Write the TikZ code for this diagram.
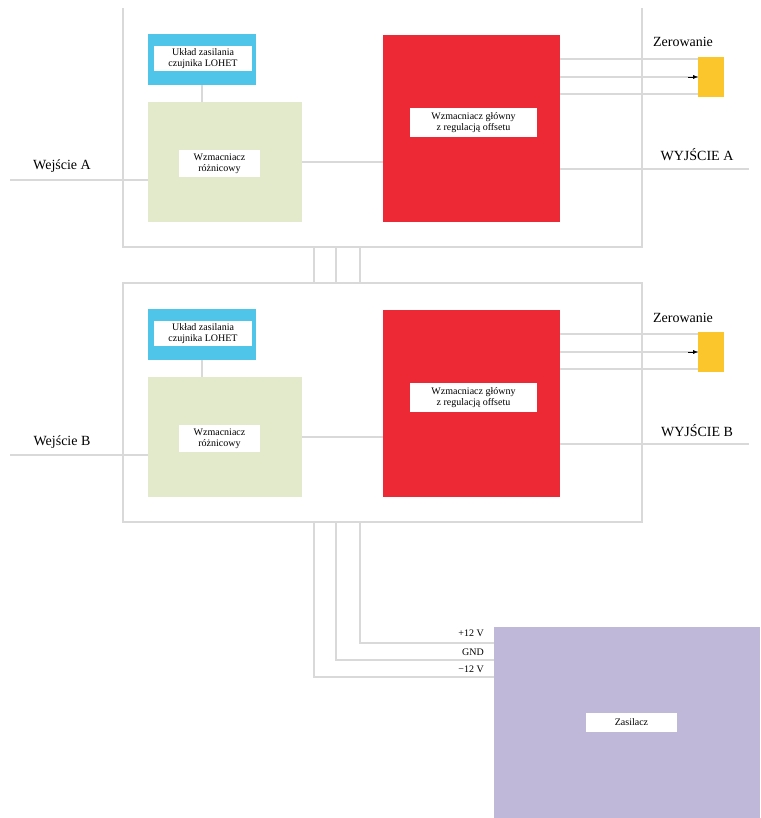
\documentclass[tikz,border=0pt]{standalone}
\usepackage{fontspec}
\setmainfont{Liberation Serif}
\usetikzlibrary{arrows.meta}
\definecolor{wire}{HTML}{D9D9D9}
\definecolor{sensorblue}{HTML}{4EC5E9}
\definecolor{diffgreen}{HTML}{E2EACB}
\definecolor{mainred}{HTML}{EC2934}
\definecolor{resetyellow}{HTML}{FBC52C}
\definecolor{supplyviolet}{HTML}{BFB8D8}
\tikzset{
  x=1pt, y=-1pt,
  wireline/.style={draw=wire, line width=1.2pt},
  block/.style={draw=none, anchor=north west, inner sep=0pt, outer sep=0pt},
  tag/.style={fill=white, anchor=north west, inner sep=0pt, outer sep=0pt,
    font=\fontsize{10}{11}\selectfont, align=center},
  biglabel/.style={font=\fontsize{14}{16}\selectfont, inner sep=0pt},
  smalllabel/.style={font=\fontsize{10}{11}\selectfont, inner sep=0pt, anchor=east},
}
\begin{document}
\begin{tikzpicture}
\useasboundingbox (0,0) rectangle (760,818);
\fill[white] (0,0) rectangle (760,818);

\foreach \p/\dy/\inname/\outname in {A/0/Wejście A/WYJŚCIE A, B/275/Wejście B/WYJŚCIE B} {
  % panel outline (the sides are drawn below)
  \node[block, minimum width=519pt, minimum height=239pt]
    (frame\p) at (123,8+\dy) {};
  % sensor supply
  \node[block, fill=sensorblue, minimum width=108pt, minimum height=51pt]
    (blue\p) at (148,34+\dy) {};
  \node[tag, minimum width=98pt, minimum height=25pt] (bluetag\p) at (154,46+\dy)
    {Układ zasilania\\czujnika LOHET};
  % differential amplifier
  \node[block, fill=diffgreen, minimum width=154pt, minimum height=120pt]
    (green\p) at (148,102+\dy) {};
  \node[tag, minimum width=81pt, minimum height=27pt] (greentag\p) at (179,150+\dy)
    {Wzmacniacz\\różnicowy};
  % main amplifier
  \node[block, fill=mainred, minimum width=177pt, minimum height=187pt]
    (red\p) at (383,35+\dy) {};
  \node[tag, minimum width=127pt, minimum height=29pt] (redtag\p) at (410,108+\dy)
    {Wzmacniacz główny\\z regulacją offsetu};
  % reset
  \node[block, fill=resetyellow, minimum width=26pt, minimum height=40pt]
    (yellow\p) at (698,57+\dy) {};
  \node[biglabel, anchor=base] (reset\p) at (683,47+\dy) {Zerowanie};
  % input / output terminals
  \coordinate (in\p) at (10,180+\dy);
  \coordinate (out\p) at (749,169+\dy);
  \node[biglabel, anchor=base] (inlabel\p) at (62,170+\dy) {\inname};
  \node[biglabel, anchor=base] (outlabel\p) at (697,161+\dy) {\outname};

  % connections
  \draw[wireline] (blue\p.south) -- (blue\p.south |- green\p.north);
  \draw[wireline] (in\p) -- (in\p -| green\p.west);
  \draw[wireline] (green\p.east) -- (green\p.east -| red\p.west);
  \draw[wireline] (out\p -| red\p.east) -- (out\p);
  \draw[wireline] (red\p.east |- 0,59+\dy) -- (yellow\p.west |- 0,59+\dy);
  \draw[wireline] (red\p.east |- yellow\p.west) -- (yellow\p.west);
  \draw[-{Latex[length=5pt,width=4pt]}, black, line width=0.4pt]
    ([xshift=-10pt]yellow\p.west) -- (yellow\p.west);
  \draw[wireline] (red\p.east |- 0,94+\dy) -- (yellow\p.west |- 0,94+\dy);
}

% panel sides: the upper panel is open at the top
\draw[wireline] (frameA.north west) -- (frameA.south west) -- (frameA.south east) -- (frameA.north east);
\draw[wireline] (frameB.north west) rectangle (frameB.south east);

% bus between the two panels
\foreach \bx in {314,336,360}
  \draw[wireline] (frameA.south -| \bx,0) -- (frameB.north -| \bx,0);

% power supply
\node[block, fill=supplyviolet, minimum width=266pt, minimum height=191pt]
  (supply) at (494,627) {};
\node[tag, minimum width=91pt, minimum height=19pt] (supplytag) at (586,713) {Zasilacz};

\coordinate (vplus) at (360,643);
\coordinate (vgnd) at (336,660);
\coordinate (vminus) at (314,677);
\draw[wireline] (frameB.south -| vplus) -- (vplus) -- (vplus -| supply.west);
\draw[wireline] (frameB.south -| vgnd) -- (vgnd) -- (vgnd -| supply.west);
\draw[wireline] (frameB.south -| vminus) -- (vminus) -- (vminus -| supply.west);
\node[smalllabel] (lplus) at (484,633) {+12 V};
\node[smalllabel] (lgnd) at (484,652) {GND};
\node[smalllabel] (lminus) at (484,669) {−12 V};
\end{tikzpicture}
\end{document}
